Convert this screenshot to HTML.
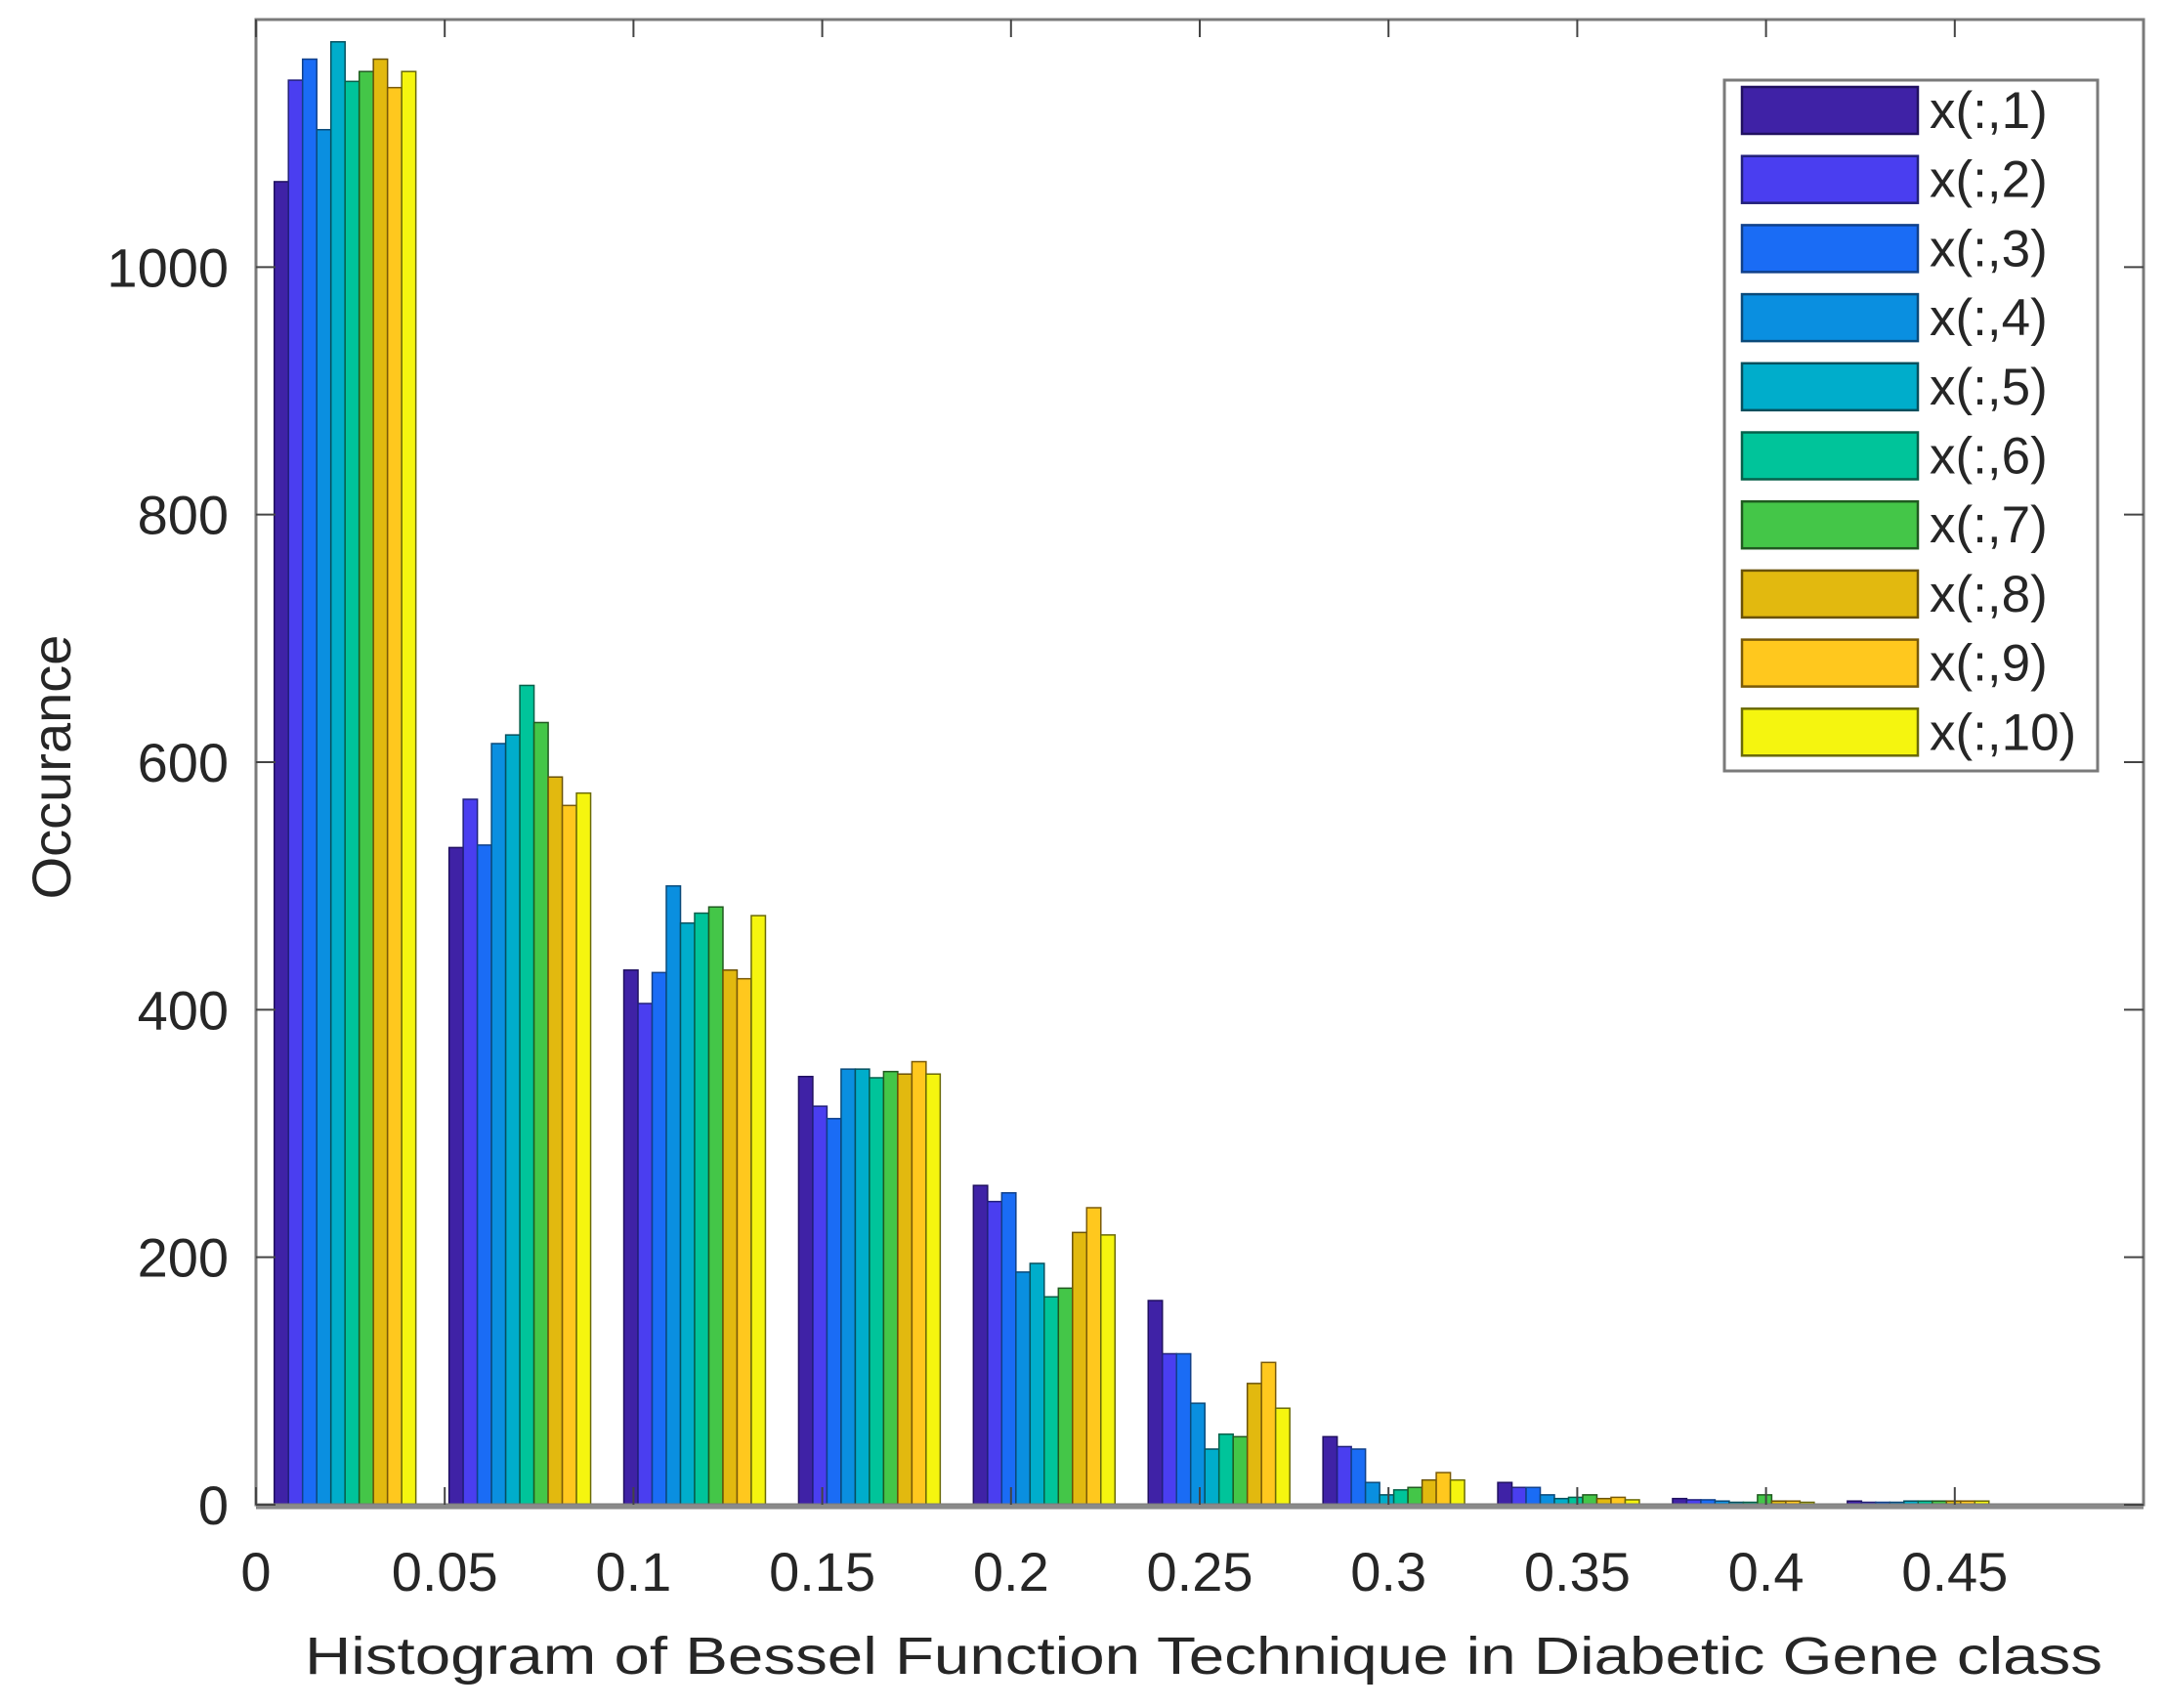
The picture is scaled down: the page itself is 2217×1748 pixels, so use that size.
<!DOCTYPE html>
<html><head><meta charset="utf-8"><style>
html,body{margin:0;padding:0;background:#fff;}
svg{display:block;font-family:"Liberation Sans",Arial,sans-serif;}
</style></head><body>
<svg id="chart" width="2217" height="1748" viewBox="0 0 2217 1748" xmlns="http://www.w3.org/2000/svg">
<rect x="0" y="0" width="2217" height="1748" fill="#fff"/>
<g id="bars"></g>
<g id="axes"></g>
<g id="legend"></g>
</svg>
<script>
const binCenters = [0.0236,0.0699,0.1162,0.1625,0.2088,0.2551,0.3014,0.3477,0.394,0.4403];
const series1 = [1069,531,432,346,258,165,55,18,5,3];
const series2 = [1151,570,405,322,245,122,47,14,4,2];
const series3 = [1168,533,430,312,252,122,45,14,4,2];
const series4 = [1111,615,500,352,188,82,18,8,3,2];
const series5 = [1182,622,470,352,195,45,8,5,2,3];
const series6 = [1150,662,478,345,168,57,12,6,2,3];
const series7 = [1158,632,483,350,175,55,14,8,8,3];
const series8 = [1168,588,432,348,220,98,20,5,3,3];
const series9 = [1145,565,425,358,240,115,26,6,3,3];
const series10 = [1158,575,476,348,218,78,20,4,2,3];
const seriesNames = ["x(:,1)","x(:,2)","x(:,3)","x(:,4)","x(:,5)","x(:,6)","x(:,7)","x(:,8)","x(:,9)","x(:,10)"];
const xTicks = [0,0.05,0.1,0.15,0.2,0.25,0.3,0.35,0.4,0.45];
const xTickLabels = ["0","0.05","0.1","0.15","0.2","0.25","0.3","0.35","0.4","0.45"];
const yTicks = [0,200,400,600,800,1000];
const yTickLabels = ["0","200","400","600","800","1000"];

const allSeries=[series1,series2,series3,series4,series5,series6,series7,series8,series9,series10];
const colors=["#3f22a6","#4a3ef0","#1a6cf5","#0a8fe0","#00adcb","#00c49a","#44c648","#e2b90f","#ffc81e","#f5f50f"];
const edges=["#201060","#22207a","#10408a","#0a4a7a","#06505e","#06604a","#205a20","#6a5208","#7a5a08","#6a6a08"];
const L=262,R=2194,T=20,B=1540,XMAX=0.5,YMAX=1200;
const sx=v=>L+(v/XMAX)*(R-L);
const sy=v=>B-(v/YMAX)*(B-T);
const NS="http://www.w3.org/2000/svg";
function mk(tag,attrs,parent){const e=document.createElementNS(NS,tag);for(const k in attrs)e.setAttribute(k,attrs[k]);parent.appendChild(e);return e;}
const gb=document.getElementById('bars');
const groupW=(sx(0.0463)-sx(0))*0.81;
const bw=groupW/10;
binCenters.forEach((c,i)=>{
  const x0=sx(c)-groupW/2;
  allSeries.forEach((s,j)=>{
    const y=sy(s[i]);
    const r=mk('rect',{x:x0+j*bw,y:y,width:bw,height:B-y,fill:colors[j],stroke:edges[j],'stroke-width':1.5},gb);
    
    
  });
});
const ga=document.getElementById('axes');
mk('rect',{x:L,y:T,width:R-L,height:B-T,fill:'none',stroke:'#7a7a7a','stroke-width':3},ga);
mk('line',{x1:L,y1:B+2,x2:R,y2:B+2,stroke:'#8a8a8a','stroke-width':5},ga);
xTicks.forEach((v,i)=>{
  const x=sx(v);
  mk('line',{x1:x,y1:B,x2:x,y2:B-18,stroke:'#444','stroke-width':2},ga);
  mk('line',{x1:x,y1:T,x2:x,y2:T+18,stroke:'#444','stroke-width':2},ga);
  const t=mk('text',{x:x,y:1628,'font-size':56,'text-anchor':'middle',fill:'#262626'},ga);
  t.textContent=xTickLabels[i];
  
  
});
yTicks.forEach((v,i)=>{
  const y=sy(v);
  mk('line',{x1:L,y1:y,x2:L+20,y2:y,stroke:'#444','stroke-width':2},ga);
  mk('line',{x1:R,y1:y,x2:R-20,y2:y,stroke:'#444','stroke-width':2},ga);
  const t=mk('text',{x:234,y:y+20,'font-size':56,'text-anchor':'end',fill:'#262626'},ga);
  t.textContent=yTickLabels[i];
  
  
});
const xl=mk('text',{x:312,y:1713,'font-size':54,fill:'#262626',textLength:1840,lengthAdjust:'spacingAndGlyphs'},ga);
xl.textContent="Histogram of Bessel Function Technique in Diabetic Gene class";


const yl=mk('text',{x:0,y:0,'font-size':56,'text-anchor':'middle',fill:'#262626',transform:'translate(72,785) rotate(-90)'},ga);
yl.textContent="Occurance";


const gl=document.getElementById('legend');
mk('rect',{x:1765,y:82,width:382,height:707,fill:'#fff',stroke:'#7a7a7a','stroke-width':3},gl);
seriesNames.forEach((n,j)=>{
  const y=89+j*70.7;
  const g=mk('g',{},gl);
  
  
  mk('rect',{x:1783,y:y,width:180,height:48,fill:colors[j],stroke:edges[j],'stroke-width':2.5},g);
  const t=mk('text',{x:1975,y:y+42,'font-size':53,fill:'#262626'},g);
  t.textContent=n;
});
</script>
</body></html>
